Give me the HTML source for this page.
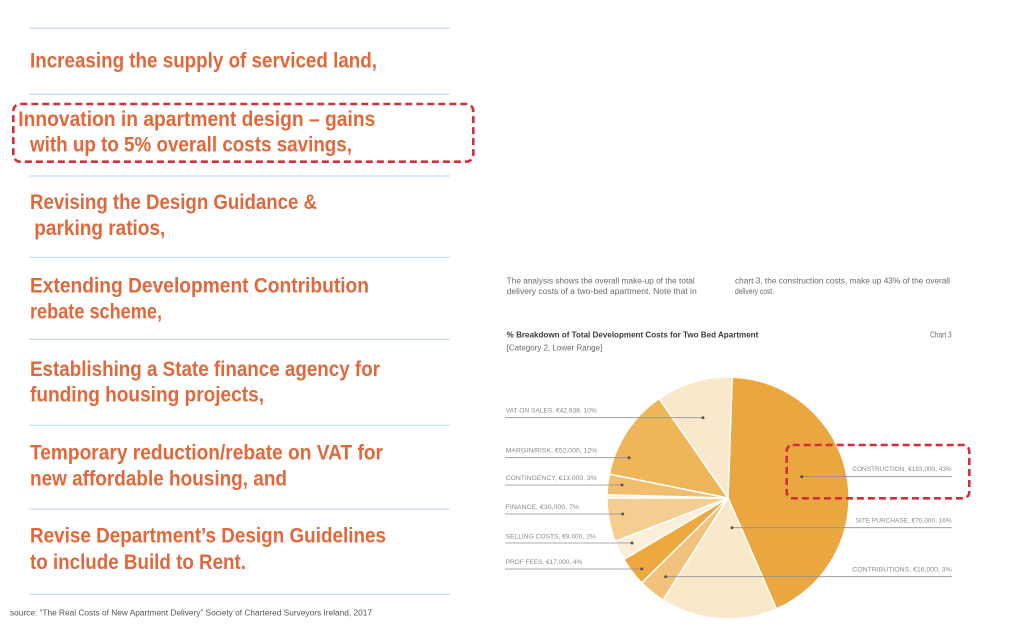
<!DOCTYPE html>
<html><head><meta charset="utf-8"><style>
html,body{margin:0;padding:0;background:#fff;}
svg{display:block;}
.o{font-family:"Liberation Sans",sans-serif;font-weight:bold;font-size:21px;fill:#E0683B;}
.p{font-family:"Liberation Sans",sans-serif;font-size:8px;fill:#6a6a6a;}
.l{font-family:"Liberation Sans",sans-serif;font-size:6.5px;fill:#8a8a8a;}
</style></head><body>
<svg width="1024" height="632" viewBox="0 0 1024 632" xmlns="http://www.w3.org/2000/svg">
<rect width="1024" height="632" fill="#fff"/>
<g stroke="#C5D8EC" stroke-width="1.2">
<line x1="29.3" y1="28.3" x2="449.7" y2="28.3"/>
<line x1="29.3" y1="94.3" x2="449.7" y2="94.3"/>
<line x1="29.3" y1="176" x2="449.7" y2="176"/>
<line x1="29.3" y1="257.3" x2="449.7" y2="257.3"/>
<line x1="29.3" y1="339.3" x2="449.7" y2="339.3"/>
<line x1="29.3" y1="425.3" x2="449.7" y2="425.3"/>
<line x1="29.3" y1="509.3" x2="449.7" y2="509.3"/>
<line x1="29.3" y1="594.3" x2="449.7" y2="594.3"/>
</g>
<g class="o">
<text x="30" y="67.5" textLength="347" lengthAdjust="spacingAndGlyphs">Increasing the supply of serviced land,</text>
<text x="18.3" y="126" textLength="357" lengthAdjust="spacingAndGlyphs">Innovation in apartment design – gains</text>
<text x="30" y="151.7" textLength="322" lengthAdjust="spacingAndGlyphs">with up to 5% overall costs savings,</text>
<text x="30" y="209" textLength="287" lengthAdjust="spacingAndGlyphs">Revising the Design Guidance &amp;</text>
<text x="34.3" y="235" textLength="131" lengthAdjust="spacingAndGlyphs">parking ratios,</text>
<text x="30" y="292.3" textLength="339" lengthAdjust="spacingAndGlyphs">Extending Development Contribution</text>
<text x="30" y="318.5" textLength="132" lengthAdjust="spacingAndGlyphs">rebate scheme,</text>
<text x="30" y="376" textLength="350" lengthAdjust="spacingAndGlyphs">Establishing a State finance agency for</text>
<text x="30" y="401.7" textLength="234" lengthAdjust="spacingAndGlyphs">funding  housing projects,</text>
<text x="30" y="459.3" textLength="353" lengthAdjust="spacingAndGlyphs">Temporary reduction/rebate on VAT for</text>
<text x="30" y="485.7" textLength="257" lengthAdjust="spacingAndGlyphs">new affordable housing, and</text>
<text x="30" y="542.7" textLength="356" lengthAdjust="spacingAndGlyphs">Revise Department’s Design Guidelines</text>
<text x="30" y="569" textLength="216" lengthAdjust="spacingAndGlyphs">to include Build to Rent.</text>
</g>
<rect x="13.3" y="104" width="460" height="57.7" rx="7" fill="none" stroke="#D42E3A" stroke-width="2.6" stroke-dasharray="7 4"/>
<text x="10" y="615.7" font-family="Liberation Sans, sans-serif" font-size="8" fill="#555" textLength="362" lengthAdjust="spacingAndGlyphs">source: “The Real Costs of New Apartment Delivery” Society of Chartered Surveyors Ireland, 2017</text>

<g class="p">
<text x="506.7" y="283.3" textLength="188" lengthAdjust="spacingAndGlyphs">The analysis shows the overall make-up of the total</text>
<text x="506.7" y="293.8" textLength="190" lengthAdjust="spacingAndGlyphs">delivery costs of a two-bed apartment.  Note that in</text>
<text x="735" y="283.3" textLength="215" lengthAdjust="spacingAndGlyphs">chart 3, the construction costs, make up 43% of the overall</text>
<text x="735" y="293.8" textLength="39" lengthAdjust="spacingAndGlyphs">delivery cost.</text>
<text x="506.7" y="337.7" textLength="251.6" lengthAdjust="spacingAndGlyphs" font-weight="bold" fill="#3a3a3a">% Breakdown of Total Development Costs for Two Bed Apartment</text>
<text x="506.7" y="350.5" textLength="95.6" lengthAdjust="spacingAndGlyphs">[Category 2, Lower Range]</text>
<text x="930" y="337.7" textLength="21.7" lengthAdjust="spacingAndGlyphs">Chart 3</text>
</g>

<g stroke="#fff" stroke-width="1.5" stroke-linejoin="round">
<path d="M728,498 L732.22,377.07 A121,121 0 0 1 776.44,608.88 Z" fill="#EBA73F"/>
<path d="M728,498 L776.44,608.88 A121,121 0 0 1 663.0,600.05 Z" fill="#FAE8CB"/>
<path d="M728,498 L663.0,600.05 A121,121 0 0 1 641.69,582.81 Z" fill="#F2C27C"/>
<path d="M728,498 L641.69,582.81 A121,121 0 0 1 623.75,559.41 Z" fill="#EDA940"/>
<path d="M728,498 L623.75,559.41 A121,121 0 0 1 615.04,541.37 Z" fill="#FBEFD9"/>
<path d="M728,498 L615.04,541.37 A121,121 0 0 1 607,498 Z" fill="#F4CE90"/>
<path d="M728,498 L607,498 A121,121 0 0 1 607.04,494.83 Z" fill="#FBEFD9"/>
<path d="M728,498 L607.04,494.83 A121,121 0 0 1 609.38,474.08 Z" fill="#F0BE6E"/>
<path d="M728,498 L609.38,474.08 A121,121 0 0 1 659.11,398.53 Z" fill="#EEB559"/>
<path d="M728,498 L659.11,398.53 A121,121 0 0 1 732.22,377.07 Z" fill="#F9E8CC"/>
</g>

<g stroke="#8f8f8f" stroke-width="0.8">
<line x1="505" y1="417.7" x2="703" y2="417.7"/>
<line x1="505" y1="457.7" x2="629" y2="457.7"/>
<line x1="505" y1="485" x2="622" y2="485"/>
<line x1="505" y1="514" x2="622.7" y2="514"/>
<line x1="505" y1="543" x2="632" y2="543"/>
<line x1="505" y1="569" x2="641.7" y2="569"/>
<line x1="801.7" y1="476.7" x2="951.7" y2="476.7"/>
<line x1="732" y1="527.7" x2="951.7" y2="527.7"/>
<line x1="665.7" y1="576.7" x2="951.7" y2="576.7"/>
</g>
<g fill="#555">
<circle cx="703" cy="417.7" r="1.5"/>
<circle cx="629" cy="457.7" r="1.5"/>
<circle cx="622" cy="485" r="1.5"/>
<circle cx="622.7" cy="514" r="1.5"/>
<circle cx="632" cy="543" r="1.5"/>
<circle cx="641.7" cy="569" r="1.5"/>
<circle cx="801.7" cy="476.7" r="1.5"/>
<circle cx="732" cy="527.7" r="1.5"/>
<circle cx="665.7" cy="576.7" r="1.5"/>
</g>
<g class="l">
<text x="505.7" y="412.3" textLength="91" lengthAdjust="spacingAndGlyphs">VAT ON SALES, €42,938, 10%</text>
<text x="505.7" y="452.3" textLength="91.6" lengthAdjust="spacingAndGlyphs">MARGIN/RISK, €52,000, 12%</text>
<text x="505.7" y="480" textLength="91" lengthAdjust="spacingAndGlyphs">CONTINGENCY, €13,000, 3%</text>
<text x="505.7" y="509" textLength="73.3" lengthAdjust="spacingAndGlyphs">FINANCE, €30,000, 7%</text>
<text x="505.7" y="538.3" textLength="90" lengthAdjust="spacingAndGlyphs">SELLING COSTS, €9,000, 2%</text>
<text x="505.7" y="564" textLength="76.6" lengthAdjust="spacingAndGlyphs">PROF FEES, €17,000, 4%</text>
<text x="852.3" y="471" textLength="99.4" lengthAdjust="spacingAndGlyphs">CONSTRUCTION, €193,000, 43%</text>
<text x="855.7" y="522.7" textLength="96" lengthAdjust="spacingAndGlyphs">SITE PURCHASE, €70,000, 16%</text>
<text x="852.3" y="571.7" textLength="99.4" lengthAdjust="spacingAndGlyphs">CONTRIBUTIONS, €16,000, 3%</text>
</g>
<rect x="786.7" y="445" width="182.6" height="53.3" rx="6" fill="none" stroke="#D42E3A" stroke-width="2.6" stroke-dasharray="7 4"/>
</svg>
</body></html>
